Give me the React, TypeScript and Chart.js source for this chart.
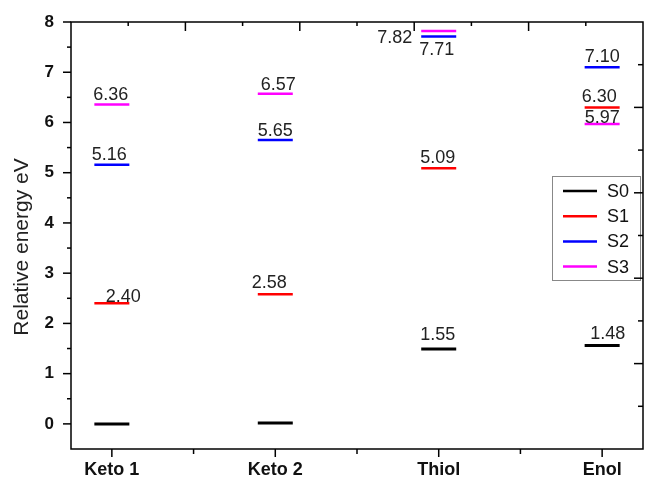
import React, { useEffect, useRef } from "react";
import { Chart, registerables } from "chart.js";

Chart.register(...registerables);

// ---- data ----
const CATEGORIES = ["Keto 1", "Keto 2", "Thiol", "Enol"];
const SERIES_NAMES = ["S0", "S1", "S2", "S3"];
const SERIES_COLORS = ["#000000", "#ff0000", "#0000ff", "#ff00ff"];
const S0 = [0, 0.02, 1.49, 1.56];
const S1 = [2.4, 2.58, 5.09, 6.3];
const S2 = [5.16, 5.65, 7.71, 7.1];
const S3 = [6.36, 6.57, 7.82, 5.97];
const S0_LABELS = ["", "", "1.55", "1.48"];
const S1_LABELS = ["2.40", "2.58", "5.09", "6.30"];
const S2_LABELS = ["5.16", "5.65", "7.71", "7.10"];
const S3_LABELS = ["6.36", "6.57", "7.82", "5.97"];
const Y_TICKS = [0, 1, 2, 3, 4, 5, 6, 7, 8];

const SERIES = [S0, S1, S2, S3];
const LABELS = [S0_LABELS, S1_LABELS, S2_LABELS, S3_LABELS];

// ---- styling (label nudges in px, relative to centered text just above the level) ----
const LABEL_NUDGE = [
  [[0, 0], [0, 0], [-1, -4.3], [5.5, -1.6]],
  [[11.5, 4], [-6, -1], [-1, -0.6], [-3, -0.6]],
  [[-2.5, 0], [0, 1.4], [-2, 23.3], [0, -0.6]],
  [[-1, 0.7], [3, 1], [-44, 16.7], [0, 4]],
];
const FONT = "'Liberation Sans', Arial, Helvetica, sans-serif";

const resetPadding = (s: any) => {
  s.paddingLeft = 0;
  s.paddingRight = 0;
  s.paddingTop = 0;
  s.paddingBottom = 0;
};

const decorPlugin = {
  id: "decor",
  afterDatasetsDraw(chart: any) {
    const { ctx, chartArea: a, scales } = chart;
    const x = scales.x;
    const y = scales.y;
    ctx.save();

    // value labels
    ctx.font = `18px ${FONT}`;
    ctx.fillStyle = "#222";
    ctx.textAlign = "center";
    ctx.textBaseline = "alphabetic";
    SERIES.forEach((vals, s) => {
      vals.forEach((v, i) => {
        const t = LABELS[s][i];
        if (!t) return;
        const [dx, dy] = LABEL_NUDGE[s][i];
        const px = x.getPixelForValue(i + 1) + dx;
        const py = y.getPixelForValue(v) - 5 + dy;
        ctx.fillText(t, px, py);
      });
    });

    // legend
    const lx = 552, ly = 176, lw = 88, lh = 104;
    ctx.fillStyle = "#fff";
    ctx.fillRect(lx, ly, lw, lh);
    ctx.strokeStyle = "#888";
    ctx.lineWidth = 1;
    ctx.strokeRect(lx + 0.5, ly + 0.5, lw, lh);
    ctx.font = `18px ${FONT}`;
    ctx.textAlign = "left";
    ctx.textBaseline = "middle";
    SERIES_NAMES.forEach((name, k) => {
      const ry = 191 + k * 25.2;
      ctx.strokeStyle = SERIES_COLORS[k];
      ctx.lineWidth = 2.5;
      ctx.beginPath();
      ctx.moveTo(563, ry);
      ctx.lineTo(597, ry);
      ctx.stroke();
      ctx.fillStyle = "#111";
      ctx.fillText(name, 607, ry + 1);
    });

    // frame
    ctx.strokeStyle = "#000";
    ctx.lineWidth = 1.5;
    ctx.strokeRect(a.left, a.top, a.right - a.left, a.bottom - a.top);

    const line = (x1: number, y1: number, x2: number, y2: number) => {
      ctx.beginPath();
      ctx.moveTo(x1, y1);
      ctx.lineTo(x2, y2);
      ctx.stroke();
    };

    // left ticks (outward)
    for (let v = 0; v <= 8; v += 0.5) {
      const py = y.getPixelForValue(v);
      const len = Number.isInteger(v) ? 8 : 4;
      line(a.left - len, py, a.left, py);
    }
    // bottom ticks (outward)
    for (let v = 1; v <= 4; v += 0.5) {
      const px = x.getPixelForValue(v);
      const len = Number.isInteger(v) ? 8 : 5;
      line(px, a.bottom, px, a.bottom + len);
    }
    // top ticks (inward)
    for (let i = 1; i < 10; i++) {
      const px = a.left + ((a.right - a.left) * i) / 10;
      const len = i % 2 === 0 ? 9 : 4;
      line(px, a.top, px, a.top + len);
    }
    // right ticks (inward)
    for (let i = 1; i < 10; i++) {
      const py = a.top + ((a.bottom - a.top) * i) / 10;
      const len = i % 2 === 0 ? 9 : 5;
      line(a.right - len, py, a.right, py);
    }

    // y axis title
    ctx.save();
    ctx.translate(28, 247);
    ctx.rotate(-Math.PI / 2);
    ctx.font = `21px ${FONT}`;
    ctx.fillStyle = "#222";
    ctx.textAlign = "center";
    ctx.textBaseline = "alphabetic";
    ctx.fillText("Relative energy eV", 0, 0);
    ctx.restore();

    ctx.restore();
  },
};

export default function App() {
  const ref = useRef<HTMLCanvasElement | null>(null);

  useEffect(() => {
    if (!ref.current) return;
    const chart = new Chart(ref.current, {
      type: "scatter",
      data: {
        datasets: SERIES.map((vals, s) => ({
          label: SERIES_NAMES[s],
          data: vals.map((v, i) => ({ x: i + 1, y: v })),
          pointStyle: "line",
          pointRadius: 17.5,
          pointHoverRadius: 17.5,
          pointBorderWidth: s === 0 ? 3 : 2.5,
          pointHoverBorderWidth: s === 0 ? 3 : 2.5,
          borderColor: SERIES_COLORS[s],
          backgroundColor: SERIES_COLORS[s],
          showLine: false,
          clip: false,
        })) as any,
      },
      options: {
        animation: false,
        responsive: false,
        events: [],
        layout: {
          autoPadding: false,
          padding: { top: 22, right: 3, left: 0, bottom: 0 },
        },
        plugins: {
          legend: { display: false },
          tooltip: { enabled: false },
          title: { display: false },
        },
        scales: {
          x: {
            type: "linear",
            position: "bottom",
            min: 0.75,
            max: 4.25,
            grid: { display: false, drawTicks: false },
            border: { display: false },
            afterBuildTicks: (s: any) => {
              s.ticks = [1, 2, 3, 4].map((v) => ({ value: v }));
            },
            afterFit: (s: any) => {
              s.height = 30;
              resetPadding(s);
            },
            ticks: {
              autoSkip: false,
              maxRotation: 0,
              padding: 10,
              color: "#111",
              font: { family: FONT, size: 18, weight: "bold" },
              callback: (v: any) => CATEGORIES[Math.round(Number(v)) - 1] ?? "",
            },
          },
          y: {
            type: "linear",
            min: -0.5,
            max: 8,
            grid: { display: false, drawTicks: false },
            border: { display: false },
            afterBuildTicks: (s: any) => {
              s.ticks = Y_TICKS.map((v) => ({ value: v }));
            },
            afterFit: (s: any) => {
              s.width = 71;
              resetPadding(s);
            },
            ticks: {
              padding: 17,
              color: "#111",
              font: { family: FONT, size: 17, weight: "bold" },
              callback: (v: any) => String(v),
            },
          },
        },
      } as any,
      plugins: [decorPlugin],
    });
    return () => chart.destroy();
  }, []);

  return (
    <div
      style={{
        position: "fixed",
        left: 0,
        top: 0,
        width: 646,
        height: 479,
        background: "#fff",
      }}
    >
      <canvas ref={ref} width={646} height={479} style={{ display: "block" }} />
    </div>
  );
}
